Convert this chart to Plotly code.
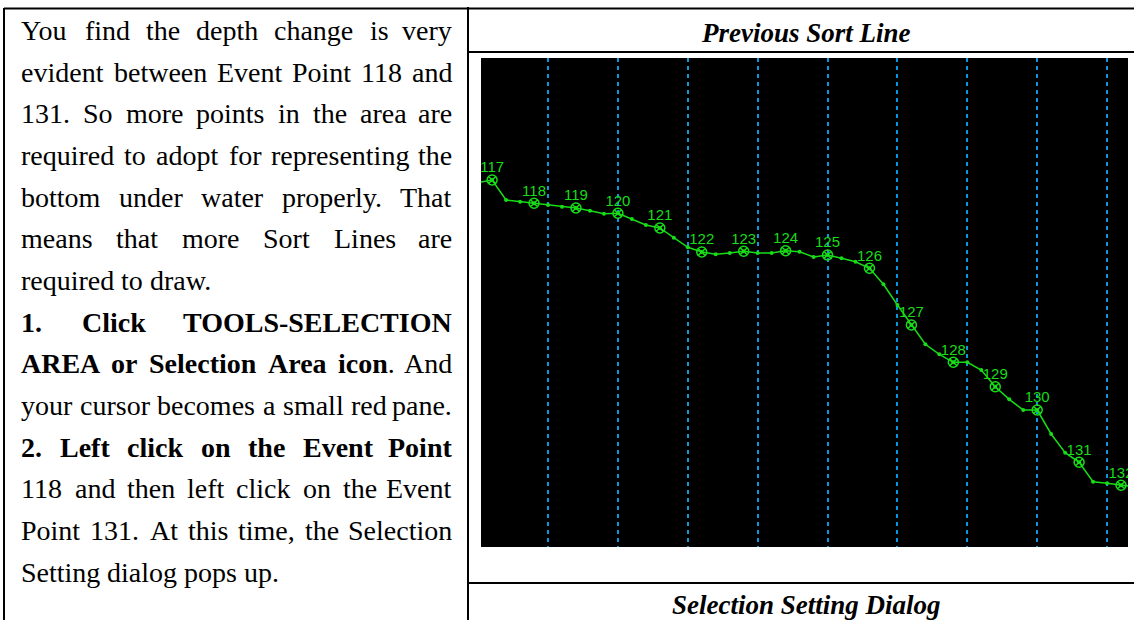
import plotly.graph_objects as go

W, H = 1134, 620

# ---------------- chart data ----------------
# station = position along the line in event-point numbers, depth in metres
stations = [116.667, 117.000, 117.333, 117.667, 118.000, 118.333, 118.667, 119.000,
            119.333, 119.667, 120.000, 120.333, 120.667, 121.000, 121.333, 121.667,
            122.000, 122.333, 122.667, 123.000, 123.333, 123.667, 124.000, 124.333,
            124.667, 125.000, 125.333, 125.667, 126.000, 126.333, 126.667, 127.000,
            127.333, 127.667, 128.000, 128.333, 128.667, 129.000, 129.333, 129.667,
            130.000, 130.333, 130.667, 131.000, 131.333, 131.667, 132.000, 132.333]
depths = [12.45, 12.20, 14.20, 14.37, 14.53, 14.70, 14.87, 15.00,
          15.27, 15.57, 15.53, 16.10, 16.70, 17.00, 17.97, 18.93,
          19.40, 19.63, 19.50, 19.33, 19.50, 19.50, 19.27, 19.37,
          19.90, 19.70, 20.03, 20.37, 21.03, 22.63, 24.70, 26.70,
          28.63, 29.63, 30.43, 30.43, 31.20, 32.87, 34.13, 35.20,
          35.20, 37.60, 39.47, 40.43, 42.37, 42.53, 42.73, 42.90]

event_numbers = [117, 118, 119, 120, 121, 122, 123, 124,
                 125, 126, 127, 128, 129, 130, 131, 132]
event_depths = [12.20, 14.53, 15.00, 15.53, 17.00, 19.40, 19.33, 19.27,
                19.70, 21.03, 26.70, 30.43, 32.87, 35.20, 40.43, 42.73]
event_labels = ["117", "118", "119", "120", "121", "122", "123", "124",
                "125", "126", "127", "128", "129", "130", "131", "132"]

sort_lines = [118.333, 120.0, 121.667, 123.333, 125.0, 126.667, 128.333, 130.0, 131.667]

# ---------------- page text ----------------
title_top = "Previous Sort Line"
title_bottom = "Selection Setting Dialog"
para_lines = [
    ("You find the depth change is very", True),
    ("evident between Event Point 118 and", True),
    ("131. So more points in the area are", True),
    ("required to adopt for representing the", True),
    ("bottom under water properly. That", True),
    ("means that more Sort Lines are", True),
    ("required to draw.", False),
    ("**1. Click TOOLS-SELECTION**", True),
    ("**AREA or Selection Area icon**. And", True),
    ("your cursor becomes a small red pane.", True),
    ("**2. Left click on the Event Point**", True),
    ("118 and then left click on the Event", True),
    ("Point 131. At this time, the Selection", True),
    ("Setting dialog pops up.", False),
]

# Times metrics (per 1000 em) used to justify the paragraph lines
REG = dict(zip("ABCDEFGHIJKLMNOPQRSTUVWXYZ",
               [722, 667, 667, 722, 611, 556, 722, 722, 333, 389, 722, 611, 889,
                722, 722, 556, 722, 667, 556, 611, 722, 722, 944, 722, 722, 611]))
REG.update(zip("abcdefghijklmnopqrstuvwxyz",
               [444, 500, 444, 500, 444, 333, 500, 500, 278, 278, 500, 278, 778,
                500, 500, 500, 500, 333, 389, 278, 500, 500, 722, 500, 500, 444]))
BLD = dict(zip("ABCDEFGHIJKLMNOPQRSTUVWXYZ",
               [722, 667, 722, 722, 667, 611, 778, 778, 389, 500, 778, 667, 944,
                722, 778, 611, 778, 722, 556, 667, 722, 722, 1000, 722, 722, 667]))
BLD.update(zip("abcdefghijklmnopqrstuvwxyz",
               [500, 556, 444, 556, 444, 333, 500, 556, 278, 333, 556, 278, 833,
                556, 500, 556, 556, 444, 389, 333, 556, 500, 722, 500, 500, 444]))
for tbl in (REG, BLD):
    tbl.update({d: 500 for d in "0123456789"})
    tbl.update({".": 250, ",": 250, "-": 333, " ": 250})

FS = 28
LEFT, RIGHT = 20, 453
BASE0, LEAD = 40.0, 41.67
SERIF = "Liberation Serif"


def px(x):
    return x / W


def py(y):
    return 1 - y / H


def parse(line):
    words, bold = [], False
    for token in line.split(" "):
        segs = []
        for j, part in enumerate(token.split("**")):
            if j > 0:
                bold = not bold
            if part:
                segs.append((part, bold))
        words.append(segs)
    return words


def width(segs):
    return sum(sum((BLD if b else REG).get(c, 500) for c in t) for t, b in segs) * FS / 1000


def markup(segs):
    return "".join(f"<b>{t}</b>" if b else t for t, b in segs)


annotations = []
for i, (line, justify) in enumerate(para_lines):
    words = parse(line)
    ws = [width(w) for w in words]
    if justify and len(words) > 1:
        gap = (RIGHT - LEFT - sum(ws)) / (len(words) - 1)
    else:
        gap = 250 * FS / 1000
    ycen = BASE0 + LEAD * i - 0.3375 * FS
    x = LEFT
    for k, (w, wd) in enumerate(zip(words, ws)):
        last = justify and len(words) > 1 and k == len(words) - 1
        annotations.append(dict(
            x=px(RIGHT if last else x), y=py(ycen), xref="paper", yref="paper",
            xanchor="right" if last else "left", yanchor="middle",
            text=markup(w), showarrow=False, borderpad=0,
            font=dict(family=SERIF, size=FS, color="#000000")))
        x += wd + gap

for txt, base in ((title_top, 42.0), (title_bottom, 614.0)):
    annotations.append(dict(
        x=px(806), y=py(base - 0.3375 * 27), xref="paper", yref="paper",
        xanchor="center", yanchor="middle", text=f"<b><i>{txt}</i></b>",
        showarrow=False, borderpad=0,
        font=dict(family=SERIF, size=27, color="#000000")))

# page rules (table borders)
rules = [((4, 8.5), (1134, 8.5)), ((4, 8), (4, 620)), ((468, 7), (468, 620)),
         ((468, 52), (1134, 52)), ((468, 583), (1134, 583))]
shapes = [dict(type="line", xref="paper", yref="paper",
               x0=px(a[0]), y0=py(a[1]), x1=px(b[0]), y1=py(b[1]),
               line=dict(color="#000000", width=2)) for a, b in rules]

GREEN = "#18dc18"
fig = go.Figure()
# sounding line with the intermediate points
fig.add_trace(go.Scatter(
    x=stations, y=depths, mode="lines+markers",
    line=dict(color=GREEN, width=1.5),
    marker=dict(symbol="circle", size=4, color=GREEN),
    hoverinfo="skip"))
# event points
fig.add_trace(go.Scatter(
    x=event_numbers, y=event_depths, mode="markers",
    marker=dict(symbol="circle-x-open", size=10, color=GREEN,
                line=dict(color=GREEN, width=1.5)),
    hoverinfo="skip"))
# event-point numbers (invisible small markers keep the labels close)
fig.add_trace(go.Scatter(
    x=event_numbers, y=event_depths, mode="markers+text",
    text=event_labels, textposition="top center",
    textfont=dict(family="Liberation Sans", size=15, color=GREEN),
    marker=dict(size=4.6, color="rgba(0,0,0,0)"),
    hoverinfo="text"))

fig.update_layout(
    width=W, height=H, margin=dict(l=0, r=0, t=0, b=0),
    paper_bgcolor="#ffffff", plot_bgcolor="#000000",
    showlegend=False, shapes=shapes, annotations=annotations,
    xaxis=dict(domain=[481 / W, 1128 / W], range=[116.735, 132.166],
               tickvals=sort_lines, showticklabels=False, ticks="",
               showgrid=True, gridcolor="#0a98d8", gridwidth=1.5,
               griddash="4px,4px", zeroline=False, showline=False),
    yaxis=dict(domain=[1 - 547 / H, 1 - 58 / H], range=[48.9, 0],
               showgrid=False, showticklabels=False, ticks="",
               zeroline=False, showline=False),
)

fig.write_html("out.html", config={"displayModeBar": False},
               post_script="document.body.style.margin='0';"
                           "document.body.style.overflow='hidden';")
